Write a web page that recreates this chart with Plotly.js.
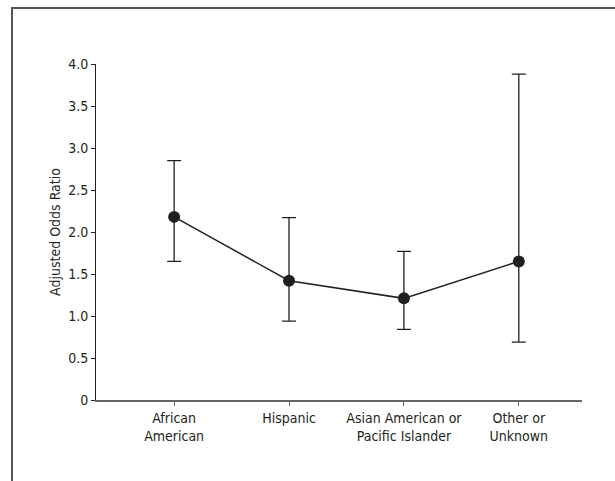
<!DOCTYPE html>
<html>
<head>
<meta charset="utf-8">
<script src="https://cdn.plot.ly/plotly-3.0.1.min.js"></script>
<style>
  html, body { margin: 0; padding: 0; background: #fff; }
  #wrap { position: relative; width: 615px; height: 481px; overflow: hidden; }
  #frame { position: absolute; left: 11px; top: 7px; width: 700px; height: 600px;
           border-top: 2px solid #555; border-left: 2px solid #555; box-sizing: border-box; pointer-events: none; }
  #chart { position: absolute; left: 0; top: 0; width: 615px; height: 481px; }
</style>
</head>
<body>
<div id="wrap">
  <div id="chart"></div>
  <div id="frame"></div>
</div>
<script>
const categories = ["African<br>American", "Hispanic", "Asian American or<br>Pacific Islander", "Other or<br>Unknown"];
const oddsRatio = [2.18, 1.42, 1.21, 1.65];
const upperCI = [2.85, 2.17, 1.77, 3.88];
const lowerCI = [1.65, 0.94, 0.84, 0.69];
const yTickVals = [0, 0.5, 1.0, 1.5, 2.0, 2.5, 3.0, 3.5, 4.0];
const yTickText = ["0", "0.5", "1.0", "1.5", "2.0", "2.5", "3.0", "3.5", "4.0"];

const xIdx = categories.map((_, i) => i);
const ink = "#231f20";
const font = "'Liberation Sans Narrow', 'DejaVu Sans Condensed', 'Arial Narrow', sans-serif";

const trace = {
  x: xIdx,
  y: oddsRatio,
  type: "scatter",
  mode: "lines+markers",
  line: { color: ink, width: 1.5 },
  marker: { color: ink, size: 12 },
  error_y: {
    type: "data",
    symmetric: false,
    array: upperCI.map((u, i) => u - oddsRatio[i]),
    arrayminus: oddsRatio.map((v, i) => v - lowerCI[i]),
    color: ink,
    thickness: 1.3,
    width: 7
  },
  hoverinfo: "skip"
};

const layout = {
  width: 615,
  height: 481,
  margin: { l: 96, r: 33, t: 64, b: 81 },
  paper_bgcolor: "#fff",
  plot_bgcolor: "#fff",
  showlegend: false,
  font: { family: font, size: 14, color: ink },
  xaxis: {
    range: [-0.68, 3.55],
    tickmode: "array",
    tickvals: xIdx,
    ticktext: categories,
    showgrid: false,
    zeroline: false,
    showline: true,
    linecolor: "#666",
    linewidth: 2,
    ticks: "outside",
    ticklen: 4,
    tickcolor: "#666",
    tickfont: { family: font, size: 14, color: ink }
  },
  yaxis: {
    range: [0, 4],
    tickmode: "array",
    tickvals: yTickVals,
    ticktext: yTickText,
    showgrid: false,
    zeroline: false,
    showline: true,
    linecolor: ink,
    linewidth: 1,
    ticks: "outside",
    ticklen: 4,
    tickcolor: ink,
    tickfont: { family: font, size: 14, color: ink },
    title: { text: "Adjusted Odds Ratio", font: { family: font, size: 14, color: ink }, standoff: 4 }
  }
};

Plotly.newPlot("chart", [trace], layout, { displayModeBar: false, staticPlot: true });
</script>
</body>
</html>
